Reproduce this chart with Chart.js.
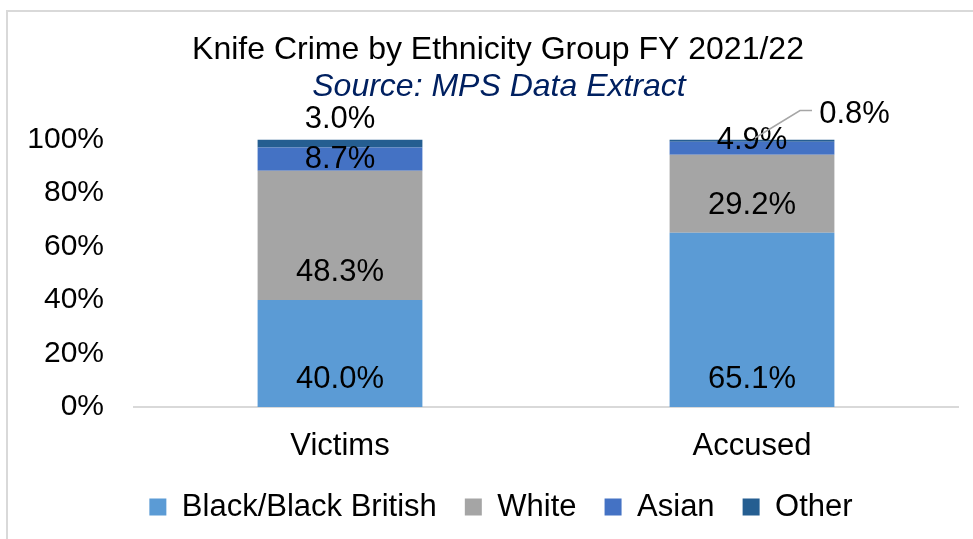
<!DOCTYPE html>
<html>
<head>
<meta charset="utf-8">
<script src="https://cdn.jsdelivr.net/npm/chart.js@4.4.1/dist/chart.umd.min.js"></script>
<style>
  html, body { margin: 0; padding: 0; background: #fff; overflow: hidden; }
  #frame { position: absolute; left: 6px; top: 10px; width: 1000px; height: 600px; border: 2px solid #d9d9d9; }
  #wrap { position: absolute; left: 0; top: 0; width: 973px; height: 539px; }
</style>
</head>
<body>
<div id="frame"></div>
<div id="wrap"><canvas id="knife-chart"></canvas></div>
<script>
const groups = ['Victims', 'Accused'];
const blackBritish = [40.0, 65.1];
const white = [48.3, 29.2];
const asian = [8.7, 4.9];
const other = [3.0, 0.8];
const yTicks = [0, 20, 40, 60, 80, 100];

const titleText = 'Knife Crime by Ethnicity Group FY 2021/22';
const sourceText = 'Source: MPS Data Extract';

const FONT = '"Liberation Sans", Arial, sans-serif';

// two line heading, the source line in italic navy
const headingPlugin = {
    id: 'heading',
    afterDraw(chart) {
        const ctx = chart.ctx;
        ctx.save();
        ctx.textAlign = 'center';
        ctx.textBaseline = 'middle';
        ctx.fillStyle = '#000';
        ctx.font = '32px ' + FONT;
        ctx.fillText(titleText, 498, 50);
        ctx.fillStyle = '#002060';
        ctx.font = 'italic 32px ' + FONT;
        ctx.fillText(sourceText, 499, 87);
        ctx.restore();
    }
};

// legend sits a little right of centre, under the plot
const legendNudge = {
    id: 'legendNudge',
    afterLayout(chart) {
        chart.legend.left += 22;
        chart.legend.right += 22;
    }
};

// value labels, sitting near the base of each segment
const barLabelPlugin = {
    id: 'barLabels',
    afterDatasetsDraw(chart) {
        const ctx = chart.ctx;
        ctx.save();
        ctx.font = '31px ' + FONT;
        ctx.fillStyle = '#000';
        ctx.textAlign = 'center';
        ctx.textBaseline = 'middle';
        chart.data.datasets.forEach((ds, i) => {
            chart.getDatasetMeta(i).data.forEach((bar, j) => {
                const text = ds.data[j].toFixed(1) + '%';
                const mid = (bar.y + bar.base) / 2;
                let x = bar.x;
                let y = Math.max(bar.base - 27.5, mid);
                const key = ds.label + '/' + groups[j];
                if (key === 'Other/Victims') {
                    y = bar.y - 20;
                } else if (key === 'Asian/Accused') {
                    y = mid - 8;
                } else if (key === 'Other/Accused') {
                    // too thin to hold its label, so call it out to the right
                    ctx.strokeStyle = '#a6a6a6';
                    ctx.lineWidth = 1.5;
                    ctx.beginPath();
                    ctx.moveTo(bar.x + 3, bar.y - 1.5);
                    ctx.lineTo(bar.x + 48, bar.y - 29);
                    ctx.lineTo(bar.x + 60, bar.y - 29);
                    ctx.stroke();
                    x = bar.x + 102.5;
                    y = bar.y - 25;
                }
                ctx.fillText(text, x, y);
            });
        });
        ctx.restore();
    }
};

const series = [
    { label: 'Black/Black British', data: blackBritish, color: '#5b9bd5' },
    { label: 'White', data: white, color: '#a5a5a5' },
    { label: 'Asian', data: asian, color: '#4472c4' },
    { label: 'Other', data: other, color: '#255e91' }
];

new Chart(document.getElementById('knife-chart').getContext('2d'), {
    type: 'bar',
    data: {
        labels: groups,
        datasets: series.map(s => ({
            label: s.label,
            data: s.data,
            backgroundColor: s.color,
            borderWidth: 0,
            categoryPercentage: 1,
            barPercentage: 0.4
        }))
    },
    options: {
        responsive: true,
        maintainAspectRatio: false,
        animation: false,
        layout: { padding: { top: 139.5, left: 0, right: 15, bottom: 6.5 } },
        plugins: {
            title: { display: false },
            tooltip: { enabled: false },
            legend: {
                position: 'bottom',
                labels: {
                    color: '#000',
                    font: { family: FONT, size: 31 },
                    boxWidth: 17,
                    boxHeight: 17,
                    padding: 28
                }
            }
        },
        scales: {
            x: {
                stacked: true,
                grid: { display: false, drawTicks: false },
                border: { display: true, color: '#d9d9d9', width: 2 },
                ticks: { color: '#000', font: { family: FONT, size: 31 }, padding: 21 },
                afterFit: s => { s.height = 56.5; }
            },
            y: {
                stacked: true,
                min: 0,
                max: 100,
                grid: { display: false, drawTicks: false },
                border: { display: false },
                afterBuildTicks: s => { s.ticks = yTicks.map(v => ({ value: v })); },
                ticks: {
                    color: '#000',
                    font: { family: FONT, size: 30 },
                    padding: 30,
                    callback: v => v + '%'
                },
                afterFit: s => { s.width = 134; }
            }
        }
    },
    plugins: [headingPlugin, legendNudge, barLabelPlugin]
});
</script>
</body>
</html>
